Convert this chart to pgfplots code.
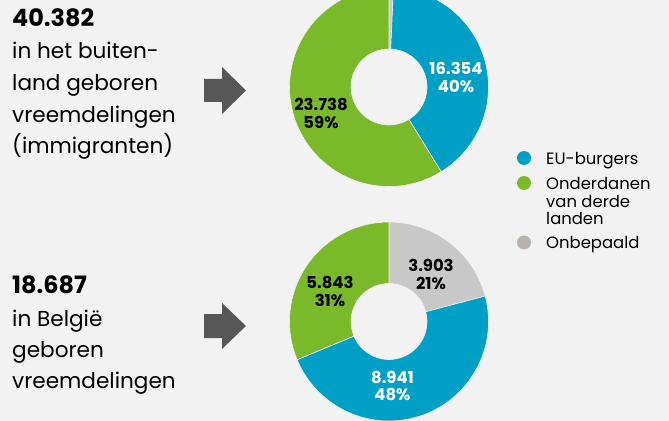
\documentclass[border=0pt]{standalone}
\usepackage{pgfplots}
\usepackage{pgfplotstable}
\pgfplotsset{compat=1.18}
\usepackage{fontspec}
\setmainfont{Poppins}
\definecolor{bg}{HTML}{F2F2F2}
\definecolor{wc0}{HTML}{C8C8C8}
\definecolor{wc1}{HTML}{00A0C6}
\definecolor{wc2}{HTML}{7AB92A}
\definecolor{leggray}{HTML}{B7B2AC}
\definecolor{arrowc}{HTML}{575757}

% order clockwise from 12 o'clock: Onbepaald, EU-burgers, Onderdanen
\pgfplotstableread{
group value
Onbepaald 290
EU 16354
Onderdanen 23738
}\topdata
\pgfplotstableread{
group value
Onbepaald 3903
EU 8941
Onderdanen 5843
}\botdata

\def\Rout{99.5}
\def\Rin{38}
\newcommand\donut[3]{%
  \gdef\tot{0}%
  \pgfplotstableforeachcolumnelement{value}\of#1\as\v{\xdef\tot{\fpeval{\tot+\v}}}%
  \gdef\ang{90}%
  \pgfplotstableforeachcolumnelement{value}\of#1\as\v{%
    \edef\aend{\fpeval{round(\ang-360*\v/\tot,4)}}%
    \edef\aback{\fpeval{\aend+180}}%
    \edef\rw{\fpeval{\Rout-\Rin}}%
    \edef\doit{\noexpand\fill[wc\pgfplotstablerow, draw=bg, line width=0.6bp]
      (axis cs:#2,#3) ++(\ang:\Rout bp) arc[start angle=\ang, end angle=\aend, radius=\Rout bp]
      -- ++(\aback:\rw bp) arc[start angle=\aend, end angle=\ang, radius=\Rin bp] -- cycle;}%
    \doit
    \xdef\ang{\aend}%
  }%
}

\begin{document}
\begin{tikzpicture}
\begin{axis}[name=ax,
  width=669bp, height=421bp, scale only axis,
  xmin=0, xmax=669, ymin=0, ymax=421, y dir=reverse,
  hide axis, clip=true]
\fill[bg] (axis cs:0,0) rectangle (axis cs:669,421);
\donut{\topdata}{389}{87}
\donut{\botdata}{389}{321.5}

% arrows
\fill[arrowc] (axis cs:204,79) -- (axis cs:222,79) -- (axis cs:222,67) -- (axis cs:246,90.5)
  -- (axis cs:222,114) -- (axis cs:222,102) -- (axis cs:204,102) -- cycle;
\fill[arrowc] (axis cs:204,314) -- (axis cs:222,314) -- (axis cs:222,303) -- (axis cs:246,326)
  -- (axis cs:222,349) -- (axis cs:222,338) -- (axis cs:204,338) -- cycle;

% left texts
\tikzset{bt/.style={anchor=base west, inner sep=0pt, font=\fontsize{21.7}{25}\selectfont}}
\node[bt, font=\fontsize{24}{25}\selectfont\bfseries] at (axis cs:12,27) {40.382};
\node[bt] at (axis cs:12,59) {in het buiten-};
\node[bt] at (axis cs:12,90.5) {land geboren};
\node[bt] at (axis cs:12,122) {vreemdelingen};
\node[bt] at (axis cs:12,153) {(immigranten)};
\node[bt, font=\fontsize{24}{25}\selectfont\bfseries] at (axis cs:12,293.5) {18.687};
\node[bt] at (axis cs:12,326) {in België};
\node[bt] at (axis cs:12,357) {geboren};
\node[bt] at (axis cs:12,388) {vreemdelingen};

% donut labels
\tikzset{dl/.style={inner sep=0pt, align=center, font=\fontsize{16.5}{18}\selectfont\bfseries}}
\node[dl, white] at (axis cs:456,77) {16.354\\40\%};
\node[dl, black] at (axis cs:321,113) {23.738\\59\%};
\node[dl, black] at (axis cs:431,274) {3.903\\21\%};
\node[dl, black] at (axis cs:330,291) {5.843\\31\%};
\node[dl, white] at (axis cs:392.5,386) {8.941\\48\%};

% legend
\fill[wc1] (axis cs:524,158) circle[radius=7bp];
\fill[wc2] (axis cs:524,183) circle[radius=7bp];
\fill[leggray] (axis cs:524,242.5) circle[radius=7bp];
\tikzset{lt/.style={anchor=base west, inner sep=0pt, font=\fontsize{16.5}{16}\selectfont}}
\node[lt] at (axis cs:546,164.5) {EU-burgers};
\node[lt] at (axis cs:546,189.5) {Onderdanen};
\node[lt] at (axis cs:546,207) {van derde};
\node[lt] at (axis cs:546,224) {landen};
\node[lt] at (axis cs:546,248) {Onbepaald};
\end{axis}
\pgfresetboundingbox
\useasboundingbox (ax.south west) rectangle (ax.north east);
\end{tikzpicture}
\end{document}
